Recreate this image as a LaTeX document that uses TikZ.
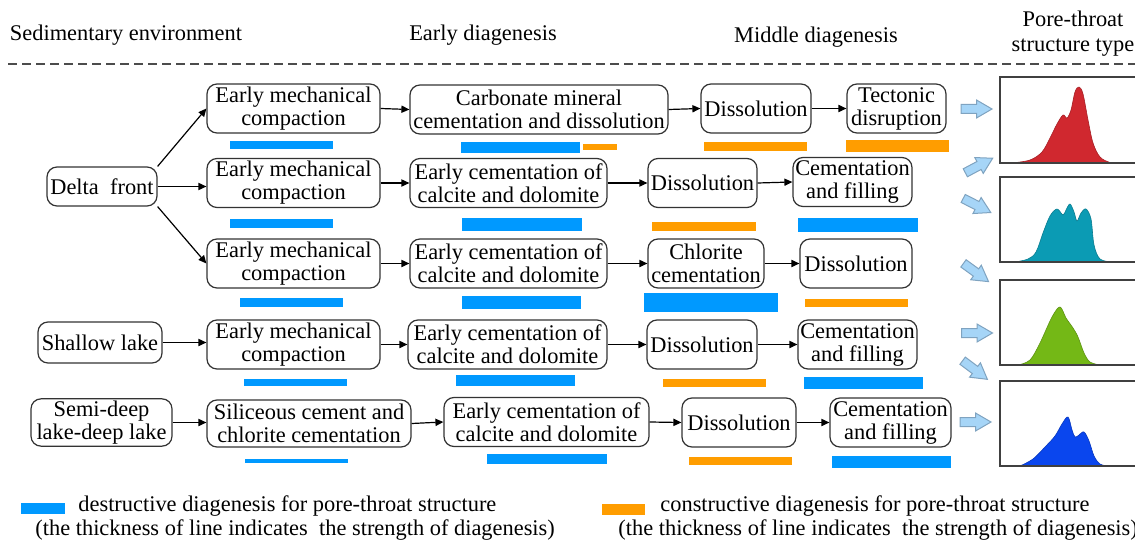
\documentclass[tikz,border=0pt]{standalone}
\usepackage{fontspec}
\setmainfont{Liberation Serif}
\usetikzlibrary{arrows.meta}
\definecolor{bbar}{HTML}{0099FF}
\definecolor{obar}{HTML}{FF9D00}
\definecolor{cred}{HTML}{D0282F}
\definecolor{cteal}{HTML}{0B9BB4}
\definecolor{cgreen}{HTML}{74B816}
\definecolor{cblue}{HTML}{0A46EE}
\definecolor{afill}{HTML}{A6D5F7}
\definecolor{adraw}{HTML}{7FA3C0}
\begin{document}
\begin{tikzpicture}[x=0.5pt,y=-0.5pt,
  font=\fontsize{11.2}{11.5}\selectfont,
  pbox/.style={draw=black!80, line width=0.6pt, rounded corners=5pt, align=center, inner sep=1pt, minimum height=24.5pt},
  conn/.style={-{Triangle[length=4pt,width=3.6pt]}, line width=0.6pt},
  barb/.style={fill=bbar},
  baro/.style={fill=obar},
  barr/.pic={\filldraw[fill=afill, draw=adraw, line width=0.5pt] (-15.5,-4.5) -- (0,-4.5) -- (0,-9) -- (15.5,0) -- (0,9) -- (0,4.5) -- (-15.5,4.5) -- cycle;},
  frame/.style={draw=black!75, line width=0.7pt},
  hdr/.style={align=center, font=\fontsize{11.2}{12.5}\selectfont},
  legtext/.style={anchor=west, inner sep=0pt, font=\fontsize{11.2}{11.5}\selectfont}
]
\useasboundingbox (0,0) rectangle (1135,556);

% headers
\node[hdr] (h1) at (126,35) {Sedimentary environment};
\node[hdr] (h2) at (483,35) {Early diagenesis};
\node[hdr] (h3) at (816,37) {Middle diagenesis};
\node[hdr] (h4) at (1073,34) {Pore-throat\\structure type};
\draw[black!70, line width=0.7pt, dash pattern=on 4.5pt off 2.5pt] (8,64) -- (1135,64);

% environments
\node[pbox, minimum width=55pt, minimum height=19.5pt] (delta) at (102,186.5) {Delta~ front};
\node[pbox, minimum width=62pt, minimum height=20.5pt] (shallow) at (100,342.5) {Shallow lake};
\node[pbox, minimum width=70.5pt, minimum height=23.5pt] (semi) at (101.5,422.5) {Semi-deep\\lake-deep lake};

% row 1
\node[pbox, minimum width=86.5pt] (r1a) at (293.5,108.5) {Early mechanical\\compaction};
\node[pbox, minimum width=129pt] (r1b) at (539,109.5) {Carbonate mineral\\cementation and dissolution};
\node[pbox, minimum width=55pt] (r1c) at (756,108.5) {Dissolution};
\node[pbox, minimum width=49.5pt] (r1d) at (896.5,108.5) {Tectonic\\disruption};
% row 2
\node[pbox, minimum width=86.5pt] (r2a) at (293.5,183) {Early mechanical\\compaction};
\node[pbox, minimum width=98.5pt] (r2b) at (508.5,183) {Early cementation of\\calcite and dolomite};
\node[pbox, minimum width=54.5pt] (r2c) at (702.5,183) {Dissolution};
\node[pbox, minimum width=59.5pt] (r2d) at (852.5,182) {Cementation\\and filling};
% row 3
\node[pbox, minimum width=86.5pt] (r3a) at (293.5,263.5) {Early mechanical\\compaction};
\node[pbox, minimum width=98.5pt] (r3b) at (508.5,263.5) {Early cementation of\\calcite and dolomite};
\node[pbox, minimum width=58pt] (r3c) at (706,263.5) {Chlorite\\cementation};
\node[pbox, minimum width=56pt] (r3d) at (856,263.5) {Dissolution};
% row 4
\node[pbox, minimum width=86.5pt] (r4a) at (293.5,344.5) {Early mechanical\\compaction};
\node[pbox, minimum width=99.5pt] (r4b) at (507.5,344.5) {Early cementation of\\calcite and dolomite};
\node[pbox, minimum width=55pt] (r4c) at (702,344.5) {Dissolution};
\node[pbox, minimum width=59.5pt] (r4d) at (857.5,344.5) {Cementation\\and filling};
% row 5
\node[pbox, minimum width=102pt, minimum height=23.5pt] (r5a) at (309,423.5) {Siliceous cement and\\chlorite cementation};
\node[pbox, minimum width=102.5pt, minimum height=24.5pt] (r5b) at (546.5,422) {Early cementation of\\calcite and dolomite};
\node[pbox, minimum width=57pt, minimum height=24.5pt] (r5c) at (739,422.5) {Dissolution};
\node[pbox, minimum width=60.5pt, minimum height=24.5pt] (r5d) at (890.5,422.5) {Cementation\\and filling};

% connectors
\draw[conn] (delta.north east) -- (r1a.west);
\draw[conn] (delta.east) -- (r2a.west |- delta.east);
\draw[conn] (delta.south east) -- (r3a.west);
\draw[conn] (shallow.east) -- (r4a.west |- shallow.east);
\draw[conn] (semi.east) -- (r5a.west |- semi.east);
\foreach \r in {1,...,5}{
  \draw[conn] (r\r a.east) -- (r\r b.west);
  \draw[conn] (r\r b.east) -- (r\r c.west);
  \draw[conn] (r\r c.east) -- (r\r d.west);
}

% bars row 1
\fill[barb] (230,141) rectangle (333,149);
\fill[barb] (461,142) rectangle (580,153);
\fill[baro] (583,144) rectangle (617,150);
\fill[baro] (704,142) rectangle (807,151);
\fill[baro] (846,140) rectangle (949,152);
% row 2
\fill[barb] (230,219) rectangle (333,228);
\fill[barb] (462,218) rectangle (582,231);
\fill[baro] (652,222) rectangle (756,231);
\fill[barb] (798,218) rectangle (918,232);
% row 3
\fill[barb] (240,298) rectangle (343,307);
\fill[barb] (462,296) rectangle (581,309);
\fill[barb] (644,293) rectangle (778,312);
\fill[baro] (805,299) rectangle (908,307);
% row 4
\fill[barb] (244,379) rectangle (347,386);
\fill[barb] (456,375) rectangle (575,386);
\fill[baro] (663,379) rectangle (766,387);
\fill[barb] (804,377) rectangle (923,389);
% row 5
\fill[barb] (245,459) rectangle (348,463);
\fill[barb] (487,454) rectangle (607,464);
\fill[baro] (689,457) rectangle (792,465);
\fill[barb] (832,456) rectangle (951,468);

% block arrows
\pic (a1) at (976.5,109) {barr};
\pic[rotate=28] (a2) at (979,165.5) {barr};
\pic[rotate=-27] (a3) at (977,205.5) {barr};
\pic[rotate=-36] (a4) at (976,272.5) {barr};
\pic (a5) at (977,333) {barr};
\pic[rotate=-37] (a6) at (975,370) {barr};
\pic (a7) at (975.5,422) {barr};

% charts
\fill[cred, draw=cred!80!black, line width=0.3pt] plot[smooth, tension=0.55] coordinates {(1012,163) (1030,160) (1042,152) (1050,138) (1057,124) (1063,115) (1067,118) (1071,110) (1075,92) (1079,87) (1083,94) (1088,120) (1093,143) (1100,157) (1110,162.5) (1118,163)} -- cycle;
\fill[cteal, draw=cteal!80!black, line width=0.3pt] plot[smooth, tension=0.55] coordinates {(1015,262) (1028,259) (1036,252) (1043,233) (1050,216) (1057,209) (1063,215) (1066,210) (1070,204) (1074,212) (1077,221) (1081,213) (1086,209) (1091,219) (1094,245) (1100,259) (1112,262)} -- cycle;
\fill[cgreen, draw=cgreen!80!black, line width=0.3pt] plot[smooth, tension=0.55] coordinates {(1018,365) (1030,360) (1040,343) (1052,317) (1060,307) (1066,318) (1073,328) (1078,337) (1084,353) (1090,362) (1100,365)} -- cycle;
\fill[cblue, draw=cblue!80!black, line width=0.3pt] plot[smooth, tension=0.55] coordinates {(1020,466) (1033,459) (1045,447) (1055,436) (1062,424) (1068,417) (1072,430) (1075,437) (1079,435) (1084,432) (1089,441) (1094,456) (1100,464) (1108,466)} -- cycle;
\draw[frame] (1135,77) -- (1000,77) -- (1000,163) -- (1135,163);
\draw[frame] (1135,177) -- (1000,177) -- (1000,262) -- (1135,262);
\draw[frame] (1135,280) -- (1000,280) -- (1000,365) -- (1135,365);
\draw[frame] (1135,381) -- (1000,381) -- (1000,466) -- (1135,466);

% legend
\fill[barb] (21,503) rectangle (65,514);
\node[legtext] (l1) at (78,506) {destructive diagenesis for pore-throat structure};
\node[legtext] (l2) at (35,530) {(the thickness of line indicates~ the strength of diagenesis)};
\fill[baro] (602,504) rectangle (645,515);
\node[legtext] (l3) at (660,506) {constructive diagenesis for pore-throat structure};
\node[legtext] (l4) at (618,530) {(the thickness of line indicates~ the strength of diagenesis)};
\end{tikzpicture}
\end{document}
